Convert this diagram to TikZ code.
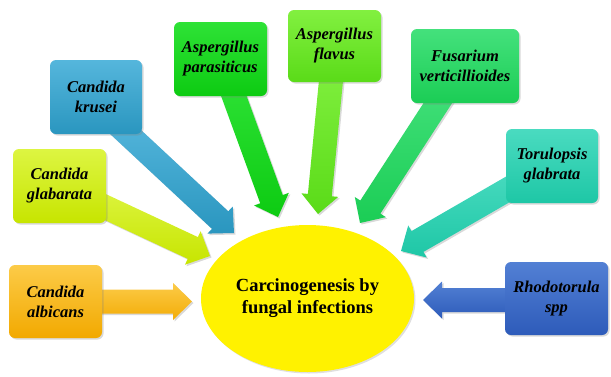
\documentclass[tikz,border=0pt]{standalone}
\usepackage{fontspec}
\setmainfont{Liberation Serif}
\usetikzlibrary{shapes.geometric,calc,shadows,backgrounds}
\definecolor{albT}{HTML}{FCCB48}\definecolor{albB}{HTML}{F2A900}
\definecolor{glaT}{HTML}{DDF542}\definecolor{glaB}{HTML}{C7E500}
\definecolor{kruT}{HTML}{55B6DC}\definecolor{kruB}{HTML}{2A96BF}
\definecolor{parT}{HTML}{2EE236}\definecolor{parB}{HTML}{0DCB12}
\definecolor{flaT}{HTML}{82F040}\definecolor{flaB}{HTML}{5ADB18}
\definecolor{fusT}{HTML}{44E17C}\definecolor{fusB}{HTML}{1BCD55}
\definecolor{torT}{HTML}{4ADBC0}\definecolor{torB}{HTML}{1EC7A6}
\definecolor{rhoT}{HTML}{5280D4}\definecolor{rhoB}{HTML}{2E5BBA}
\newcommand\fatarrow[3]{%
  \coordinate (#3-b) at ($(#3)!19pt!(#2)$);
  \path[#1] ($(#2)!12pt!90:(#3)$) -- ($(#3-b)!12pt!90:(#3)$) -- ($(#3-b)!18.5pt!90:(#3)$)
    -- (#3) -- ($(#3-b)!18.5pt!-90:(#3)$) -- ($(#3-b)!12pt!-90:(#3)$) -- ($(#2)!12pt!-90:(#3)$) -- cycle;
}
\begin{document}
\begin{tikzpicture}[x=1pt,y=-1pt,
  shd/.style={drop shadow={opacity=0.3,shadow xshift=1.5pt,shadow yshift=-1.5pt}},
  fbox/.style={rounded corners=6pt, inner sep=0pt, align=center, shd,
    font=\fontsize{16.5}{20}\selectfont\bfseries\itshape, text=black},
  farr/.style={shade, shd}]
\useasboundingbox (0,0) rectangle (611,376);
% central ellipse
\node[ellipse, fill=yellow, minimum width=213pt, minimum height=147pt, inner sep=0pt,
  drop shadow={opacity=0.25,shadow xshift=1.5pt,shadow yshift=-1.5pt},
  align=center, font=\fontsize{18.5}{22}\selectfont\bfseries] (c) at (307.5,298.5)
  {Carcinogenesis by\\fungal infections};
% boxes
\node[fbox, top color=albT, bottom color=albB, minimum width=93pt, minimum height=73pt] (alb) at (55.5,301.5) {Candida\\albicans};
\node[fbox, top color=glaT, bottom color=glaB, minimum width=93pt, minimum height=74pt] (gla) at (59.5,186) {Candida\\glabarata};
\node[fbox, top color=kruT, bottom color=kruB, minimum width=92pt, minimum height=74pt] (kru) at (96,97) {Candida\\krusei};
\node[fbox, top color=parT, bottom color=parB, minimum width=93pt, minimum height=74pt] (par) at (220.5,59) {Aspergillus\\parasiticus};
\node[fbox, top color=flaT, bottom color=flaB, minimum width=93pt, minimum height=72pt] (fla) at (334.5,46) {Aspergillus\\flavus};
\node[fbox, top color=fusT, bottom color=fusB, minimum width=108pt, minimum height=74pt] (fus) at (465,66) {Fusarium\\verticillioides};
\node[fbox, top color=torT, bottom color=torB, minimum width=92pt, minimum height=74pt] (tor) at (552,166) {Torulopsis\\glabrata};
\node[fbox, top color=rhoT, bottom color=rhoB, minimum width=103pt, minimum height=73pt] (rho) at (556.5,298.5) {Rhodotorula\\spp};
% arrow ends
\coordinate (alb-s) at (alb.center);
\coordinate (alb-t) at (192,301.5);
\coordinate (gla-s) at ($(gla.center)+(20,9)$);
\coordinate (gla-t) at (210,256);
\coordinate (kru-s) at ($(kru.center)+(21,27)$);
\coordinate (kru-t) at (234,233);
\coordinate (par-s) at ($(par.center)+(7.5,21)$);
\coordinate (par-t) at (278,217);
\coordinate (fla-s) at ($(fla.center)+(-1.5,14)$);
\coordinate (fla-t) at (318,214);
\coordinate (fus-s) at ($(fus.center)+(-12.4,14.3)$);
\coordinate (fus-t) at (360,223);
\coordinate (tor-s) at ($(tor.center)+(-21,10)$);
\coordinate (tor-t) at (401,251);
\coordinate (rho-s) at ($(rho.center)+(0,1.5)$);
\coordinate (rho-t) at (423,300);
\begin{pgfonlayer}{background}
\fatarrow{farr, top color=albT, bottom color=albB!90!albT}{alb-s}{alb-t}
\fatarrow{farr, top color=glaT, bottom color=glaB}{gla-s}{gla-t}
\fatarrow{farr, top color=kruT, bottom color=kruB}{kru-s}{kru-t}
\fatarrow{farr, top color=parT, bottom color=parB}{par-s}{par-t}
\fatarrow{farr, top color=flaT, bottom color=flaB}{fla-s}{fla-t}
\fatarrow{farr, top color=fusT, bottom color=fusB}{fus-s}{fus-t}
\fatarrow{farr, top color=torT, bottom color=torB}{tor-s}{tor-t}
\fatarrow{farr, top color=rhoT, bottom color=rhoB}{rho-s}{rho-t}
\end{pgfonlayer}
\end{tikzpicture}
\end{document}
